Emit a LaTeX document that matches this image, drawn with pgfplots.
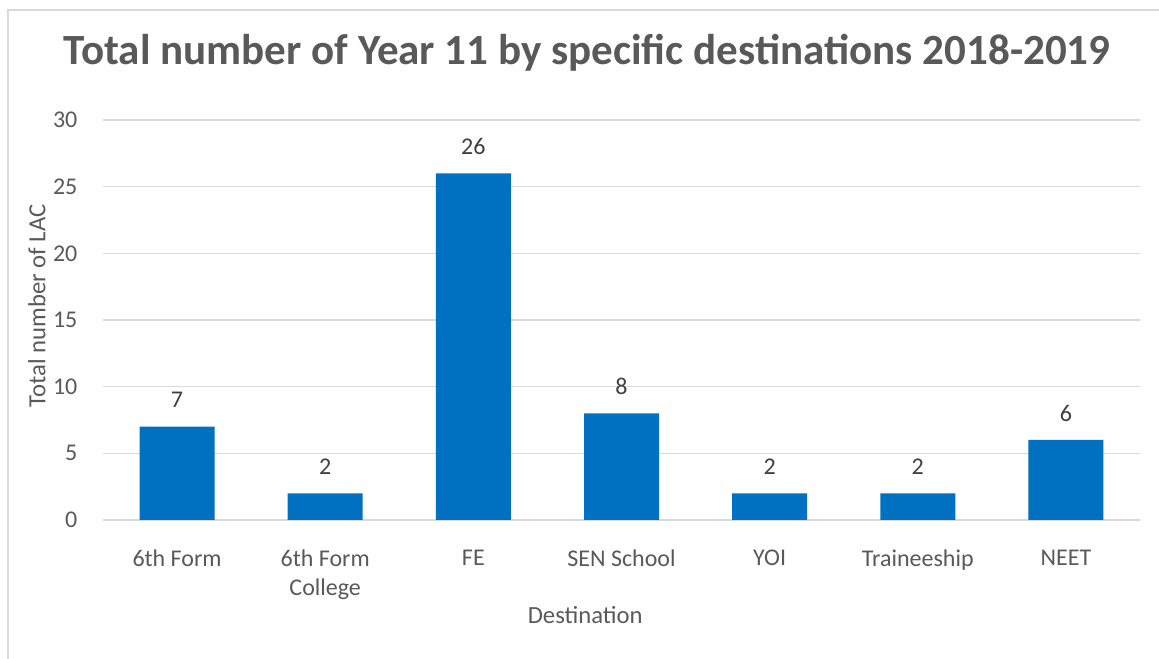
\documentclass[border=0pt]{standalone}
\usepackage{pgfplots}
\pgfplotsset{compat=1.18}
\usepackage{fontspec}
\setmainfont{Carlito}
\definecolor{barblue}{HTML}{0070C0}
\definecolor{gridgray}{HTML}{D9D9D9}
\definecolor{txtgray}{HTML}{595959}
\definecolor{lblgray}{HTML}{404040}
\begin{document}
\begin{tikzpicture}
\useasboundingbox (0pt,0pt) rectangle (869.25pt,494.25pt);
\draw[gridgray,line width=1.5pt] (6pt,-15pt) -- (6pt,486.75pt) -- (880pt,486.75pt);
\node[font=\fontsize{32.3}{38}\selectfont\bfseries,text=txtgray] at (440.25pt,455pt) {Total number of Year 11 by specific destinations 2018-2019};
\begin{axis}[
  at={(77.25pt,104.25pt)}, anchor=south west,
  scale only axis, width=777.75pt, height=300pt,
  ymin=0, ymax=30, ytick={0,5,...,30},
  xmin=-0.5, xmax=6.5, xtick={0,...,6},
  xticklabels={6th Form,6th Form\\College,FE,SEN School,YOI,Traineeship,NEET},
  ymajorgrids, major grid style={gridgray,line width=1.1pt},
  axis line style={draw=none}, tick style={draw=none},
  /pgf/number format/assume math mode=true,
  ticklabel style={font=\fontsize{18}{21.75}\selectfont,text=txtgray},
  xticklabel style={align=center,anchor=north,inner sep=0pt,yshift=-17.75pt},
  yticklabel style={anchor=east,inner sep=0pt,xshift=-19pt},
  xlabel={Destination}, ylabel={Total number of LAC},
  label style={font=\fontsize{18.5}{21.75}\selectfont,text=txtgray},
  xlabel style={at={(axis description cs:0.465,0)},anchor=center,yshift=-71pt},
  ylabel style={at={(axis description cs:0,0.535)},anchor=center,yshift=49.5pt},
  ybar, bar width=56.25pt,
  nodes near coords,
  every node near coord/.append style={font=\fontsize{18}{21.75}\selectfont,text=lblgray},
  clip=false,
]
\addplot[fill=barblue,draw=none,nodes near coords style={anchor=center,yshift=20pt}] coordinates {(0,7) (1,2) (2,26) (3,8) (4,2) (5,2) (6,6)};
\end{axis}
\end{tikzpicture}
\end{document}
